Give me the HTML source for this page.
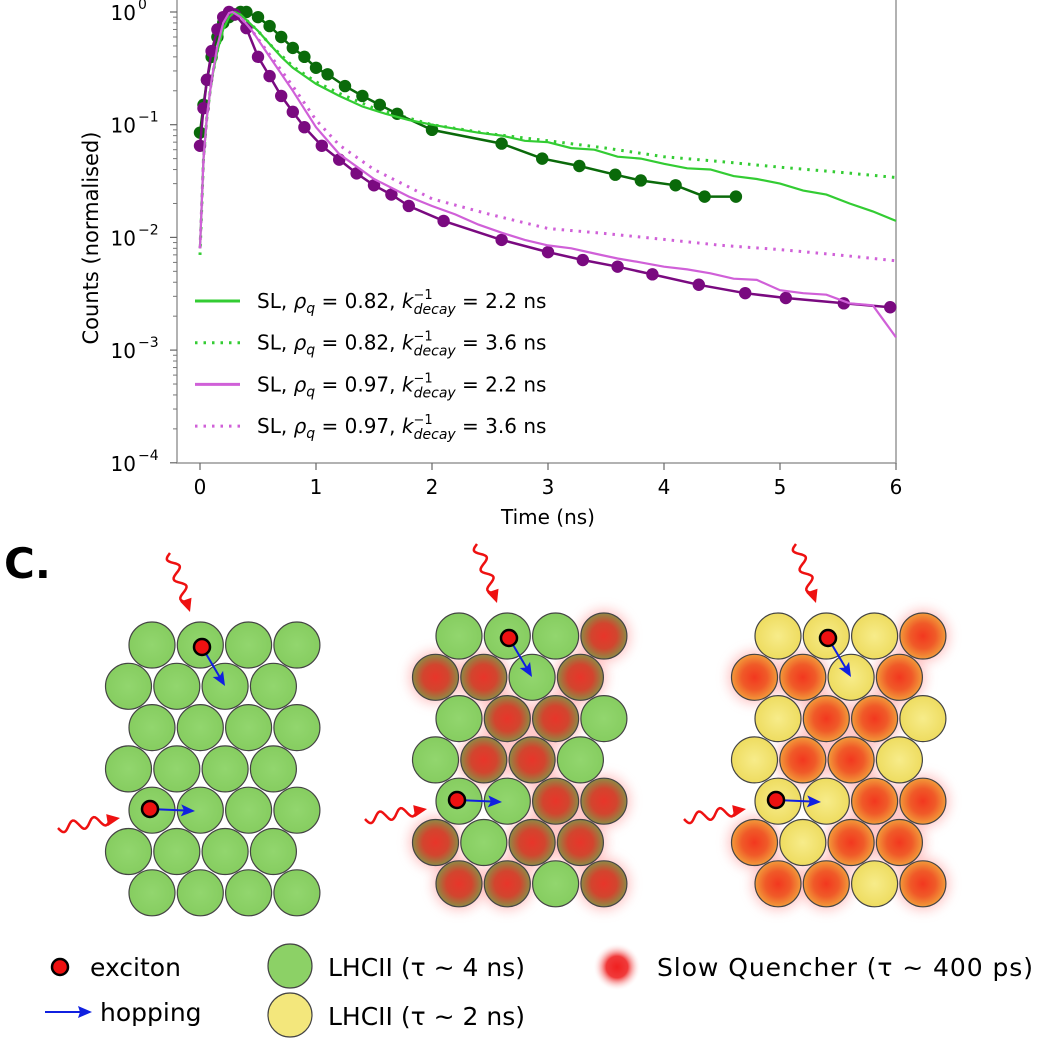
<!DOCTYPE html>
<html><head><meta charset="utf-8"><style>
html,body{margin:0;padding:0;background:#fff;}
svg{display:block;font-family:"DejaVu Sans","Liberation Sans",sans-serif;}
</style></head><body>
<svg id="fig" width="1038" height="1038" viewBox="0 0 1038 1038">
<defs>
<radialGradient id="gq1" cx="50%" cy="50%" r="50%"><stop offset="0" stop-color="#e8352a"/><stop offset="0.55" stop-color="#d2452e"/><stop offset="1" stop-color="#8f8a45"/></radialGradient>
<radialGradient id="gq2" cx="50%" cy="50%" r="50%"><stop offset="0" stop-color="#f2381f"/><stop offset="0.55" stop-color="#f05a28"/><stop offset="1" stop-color="#f29a3a"/></radialGradient>
<radialGradient id="ggreen" cx="50%" cy="50%" r="50%"><stop offset="0" stop-color="#92d66e"/><stop offset="1" stop-color="#86cd60"/></radialGradient>
<radialGradient id="gyel" cx="50%" cy="50%" r="50%"><stop offset="0" stop-color="#f7ec8a"/><stop offset="1" stop-color="#eedc60"/></radialGradient>
<radialGradient id="gblur" cx="50%" cy="50%" r="50%"><stop offset="0" stop-color="#f02020"/><stop offset="0.45" stop-color="#f03a3a"/><stop offset="1" stop-color="#ffffff" stop-opacity="0"/></radialGradient>
<filter id="glow" x="-50%" y="-50%" width="200%" height="200%"><feGaussianBlur stdDeviation="6"/></filter>
</defs>
<g id="chart"></g>
<g id="lattices"></g>
<text x="4" y="578" font-size="42" font-weight="bold">C.</text>
<g id="legend2">
  <circle cx="60" cy="967" r="8" fill="#ee1111" stroke="#000" stroke-width="2.5"/>
  <text x="90" y="976" font-size="25">exciton</text>
  <line x1="45" y1="1012" x2="80" y2="1012" stroke="#1020e0" stroke-width="2"/>
  <polygon points="92,1012 78,1006 80,1012 78,1018" fill="#1020e0"/>
  <text x="100" y="1021" font-size="25">hopping</text>
  <circle cx="290" cy="966" r="22" fill="#8cd166" stroke="#444" stroke-width="1.2"/>
  <text x="328" y="976" font-size="25">LHCII (τ ~ 4 ns)</text>
  <circle cx="290" cy="1015" r="22" fill="#f3e77c" stroke="#444" stroke-width="1.2"/>
  <text x="328" y="1025" font-size="25">LHCII (τ ~ 2 ns)</text>
  <circle cx="617" cy="967" r="24" fill="url(#gblur)"/>
  <text x="657" y="976" font-size="25" textLength="376">Slow Quencher (τ ~ 400 ps)</text>
</g>
</svg>
<script>
// ---- chart data (time in ns, counts normalised) ----
const xTicks = [0,1,2,3,4,5,6];
const yTickExp = [0,-1,-2,-3,-4];
const greenSimT = [0,0.03,0.06,0.1,0.15,0.2,0.25,0.3,0.35,0.4,0.5,0.6,0.7,0.8,1.0,1.2,1.4,1.6,1.8,2.0,2.2,2.4,2.6,2.8,3.0,3.2,3.4,3.6,3.8,4.0,4.2,4.4,4.6,4.8,5.0,5.2,5.4,5.6,5.8,6.0];
const greenSimV = [0.008,0.05,0.12,0.25,0.45,0.7,0.9,1.0,0.95,0.85,0.68,0.52,0.4,0.32,0.23,0.18,0.145,0.125,0.11,0.1,0.092,0.085,0.08,0.072,0.07,0.062,0.06,0.052,0.05,0.045,0.041,0.04,0.035,0.033,0.03,0.026,0.024,0.02,0.017,0.014];
const greenDotT = [0,0.03,0.06,0.1,0.15,0.2,0.25,0.3,0.35,0.4,0.5,0.6,0.7,0.8,0.9,1.0,1.1,1.25,1.4,1.55,1.7,2.0,2.6,2.95,3.27,3.58,3.8,4.1,4.35,4.62];
const greenDotV = [0.085,0.15,0.25,0.4,0.6,0.8,0.9,0.95,1.0,1.0,0.9,0.75,0.6,0.48,0.4,0.32,0.28,0.22,0.18,0.15,0.125,0.09,0.068,0.05,0.043,0.036,0.032,0.029,0.023,0.023];
const greenLongT = [0,0.03,0.06,0.1,0.15,0.2,0.25,0.3,0.35,0.4,0.5,0.6,0.8,1.0,1.2,1.5,2.0,2.5,3.0,3.5,4.0,4.5,5.0,5.5,6.0];
const greenLongV = [0.007,0.05,0.12,0.25,0.45,0.7,0.9,1.0,0.95,0.85,0.68,0.52,0.33,0.24,0.19,0.14,0.1,0.083,0.072,0.062,0.052,0.047,0.042,0.038,0.034];
const magSimT = [0,0.03,0.06,0.1,0.15,0.2,0.25,0.28,0.35,0.45,0.6,0.8,1.0,1.2,1.5,1.8,2.0,2.2,2.4,2.6,2.8,3.0,3.2,3.4,3.6,3.8,4.0,4.2,4.4,4.6,4.8,5.0,5.2,5.4,5.6,5.8,5.9,6.0];
const magSimV = [0.008,0.05,0.12,0.25,0.5,0.8,0.98,1.0,0.9,0.68,0.4,0.2,0.095,0.055,0.033,0.023,0.019,0.016,0.013,0.011,0.0095,0.0085,0.008,0.0072,0.0065,0.006,0.0055,0.0052,0.0048,0.0043,0.0042,0.0034,0.0032,0.0031,0.0026,0.0025,0.0018,0.0013];
const magDotT = [0,0.03,0.06,0.1,0.15,0.2,0.25,0.3,0.4,0.5,0.6,0.7,0.8,0.9,1.05,1.2,1.35,1.5,1.65,1.8,2.1,2.6,3.0,3.3,3.6,3.9,4.3,4.7,5.05,5.55,5.95];
const magDotV = [0.065,0.14,0.25,0.45,0.7,0.9,1.0,0.95,0.72,0.4,0.27,0.18,0.13,0.095,0.065,0.049,0.037,0.029,0.024,0.019,0.014,0.0095,0.0074,0.0063,0.0055,0.0047,0.0038,0.0032,0.0029,0.0026,0.0024];
const magLongT = [0,0.03,0.06,0.1,0.15,0.2,0.25,0.28,0.35,0.45,0.6,0.8,1.0,1.2,1.5,1.8,2.0,2.5,3.0,3.5,4.0,4.5,5.0,5.5,6.0];
const magLongV = [0.008,0.05,0.12,0.25,0.5,0.8,0.98,1.0,0.9,0.68,0.42,0.22,0.11,0.066,0.04,0.028,0.022,0.016,0.012,0.0108,0.0096,0.0085,0.0078,0.007,0.0062];
const legendLabels = ["0.82","0.82","0.97","0.97"];
const legendTau = ["2.2","3.6","2.2","3.6"];

const NS='http://www.w3.org/2000/svg';
function mk(tag,attrs,parent){const e=document.createElementNS(NS,tag);for(const k in attrs)e.setAttribute(k,attrs[k]);parent.appendChild(e);return e;}
const X0=200,XS=116,Y0=12,YS=112.7;
function xs(t){return X0+t*XS;}
function ys(v){return Y0-Math.log10(v)*YS;}
const chart=document.getElementById('chart');
function pathOf(T,V){return T.map((t,i)=>(i?'L':'M')+xs(t).toFixed(1)+' '+ys(V[i]).toFixed(1)).join(' ');}

let sp=mk('path',{d:'M177 0 L177 463 L896 463 L896 0',fill:'none',stroke:'#999',"stroke-width":1.5},chart);


xTicks.forEach(t=>{
  const l=mk('line',{x1:xs(t),x2:xs(t),y1:463,y2:470,stroke:'#666',"stroke-width":1.2},chart);
  
  
  const tx=mk('text',{x:xs(t),y:494,"font-size":20,"text-anchor":"middle"},chart);
  tx.textContent=t;
  
  
});
yTickExp.forEach(e=>{
  const y=ys(Math.pow(10,e));
  const l=mk('line',{x1:170,x2:177,y1:y,y2:y,stroke:'#666',"stroke-width":1.2},chart);
  
  
  const tx=mk('text',{x:136,y:y+8,"font-size":20,"text-anchor":"end"},chart);
  tx.textContent='10';
  
  
  const sup=mk('text',{x:138,y:y-3,"font-size":14},chart);
  sup.textContent=e===0?'0':'\u2212'+(-e);
  
  
  if(e>-4){for(let m=2;m<10;m++){const ym=ys(Math.pow(10,e-1)*m);
    const ml=mk('line',{x1:173,x2:177,y1:ym,y2:ym,stroke:'#777',"stroke-width":1},chart);
    
    }}
});
let yt=mk('text',{x:0,y:0,"font-size":21,"text-anchor":"middle",transform:'translate(98,238) rotate(-90)'},chart);
yt.textContent='Counts (normalised)';


let xt=mk('text',{x:548,y:524,"font-size":20,"text-anchor":"middle"},chart);
xt.textContent='Time (ns)';



const clip=mk('g',{},chart);
function line(T,V,col,dash,name,w){const p=mk('path',{d:pathOf(T,V),fill:'none',stroke:col,"stroke-width":w||2,"stroke-dasharray":dash||'none'},clip);
  
  }
function dots(T,V,col,name){T.forEach((t,i)=>{const c=mk('circle',{cx:xs(t),cy:ys(V[i]),r:6.2,fill:col},clip);
  
  });}
line(greenLongT,greenLongV,'#33cc33','2.5 6','green-dotted-series',3);
line(magLongT,magLongV,'#d060d8','2.5 6','magenta-dotted-series',3);
line(greenDotT,greenDotV,'#0a6a0a',null,'green-data-line',2.5);
dots(greenDotT,greenDotV,'#0a6a0a','green-data-point');
line(magDotT,magDotV,'#7a0a80',null,'purple-data-line',2.5);
dots(magDotT,magDotV,'#7a0a80','purple-data-point');
line(greenSimT,greenSimV,'#33cc33',null,'green-solid-series',2.2);
line(magSimT,magSimV,'#d060d8',null,'magenta-solid-series',2.2);

const lcols=['#33cc33','#33cc33','#d060d8','#d060d8'];
const ldash=[null,'2.5 6',null,'2.5 6'];
const lg=mk('g',{},chart);


legendLabels.forEach((r,i)=>{const y=301+i*41.7;
  const l=mk('line',{x1:195,x2:240,y1:y,y2:y,stroke:lcols[i],"stroke-width":3,"stroke-dasharray":ldash[i]||'none'},lg);
  
  
  const t=mk('text',{x:257,y:y+7,"font-size":20},lg);
  t.innerHTML='SL, <tspan font-style="italic">ρ</tspan><tspan font-style="italic" font-size="14" dy="5">q</tspan><tspan dy="-5"> = '+r+', </tspan><tspan font-style="italic">k</tspan><tspan font-size="13" dy="-9">−1</tspan><tspan font-style="italic" font-size="14" dx="-19" dy="15">decay</tspan><tspan dy="-6"> = '+legendTau[i]+' ns</tspan>';
  
  
});

// ---- lattices ----
const latG=document.getElementById('lattices');
const patQ=["GGGR","RRGR","GRRG","GRRG","GGRR","RGRR","RRGR"];
const lattices=[{x:152,y:645,type:0},{x:459,y:636,type:1},{x:778,y:636,type:2}];
lattices.forEach((L,li)=>{
  const g=mk('g',{},latG);
  
  
  const cells=[];
  for(let r=0;r<7;r++)for(let c=0;c<4;c++){
    const cx=L.x+c*48.3-(r%2?23.5:0), cy=L.y+r*41.3;
    const q=L.type>0&&patQ[r][c]==='R';
    cells.push({cx,cy,q});
  }
  cells.forEach(k=>{if(k.q){mk('circle',{cx:k.cx,cy:k.cy,r:26,fill:'#ff9090',opacity:0.55,filter:'url(#glow)'},g);}});
  cells.forEach(k=>{
    let fill=L.type===2?'url(#gyel)':'url(#ggreen)';
    if(k.q)fill=L.type===1?'url(#gq1)':'url(#gq2)';
    const c=mk('circle',{cx:k.cx,cy:k.cy,r:23,fill,stroke:'#444',"stroke-width":1.2},g);
    
    
  });
  const ex=[[L.x+50,L.y+2,L.x+73,L.y+41],[L.x-2,L.y+164,L.x+43,L.y+166]];
  ex.forEach(e=>{
    const dx=e[2]-e[0],dy=e[3]-e[1],len=Math.hypot(dx,dy),ux=dx/len,uy=dy/len;
    const a=mk('line',{x1:e[0],y1:e[1],x2:e[2]-ux*10,y2:e[3]-uy*10,stroke:'#1020e0',"stroke-width":2},g);
    
    
    const px=-uy,py=ux;
    const h=mk('polygon',{points:`${e[2]},${e[3]} ${e[2]-ux*14+px*6},${e[3]-uy*14+py*6} ${e[2]-ux*11},${e[3]-uy*11} ${e[2]-ux*14-px*6},${e[3]-uy*14-py*6}`,fill:'#1020e0'},g);
    
    
    const d=mk('circle',{cx:e[0],cy:e[1],r:8,fill:'#ee1111',stroke:'#000',"stroke-width":2.5},g);
    
    
  });
  const waves=[[L.x+18,L.y-92,L.x+38,L.y-33],[L.x-94,L.y+183,L.x-32,L.y+173]];
  waves.forEach(w=>{
    const dx=w[2]-w[0],dy=w[3]-w[1],len=Math.hypot(dx,dy),ux=dx/len,uy=dy/len,px=-uy,py=ux;
    let d='';const n=40,body=len-10;
    for(let i=0;i<=n;i++){const s=i/n*body,a=Math.sin(i/n*Math.PI*5)*5;
      d+=(i?'L':'M')+(w[0]+ux*s+px*a).toFixed(1)+' '+(w[1]+uy*s+py*a).toFixed(1);}
    const p=mk('path',{d,fill:'none',stroke:'#ee1111',"stroke-width":2.5},g);
    
    
    const h=mk('polygon',{points:`${w[2]},${w[3]} ${w[2]-ux*13+px*6},${w[3]-uy*13+py*6} ${w[2]-ux*13-px*6},${w[3]-uy*13-py*6}`,fill:'#ee1111'},g);
    
    
  });
});
</script>
</body></html>
